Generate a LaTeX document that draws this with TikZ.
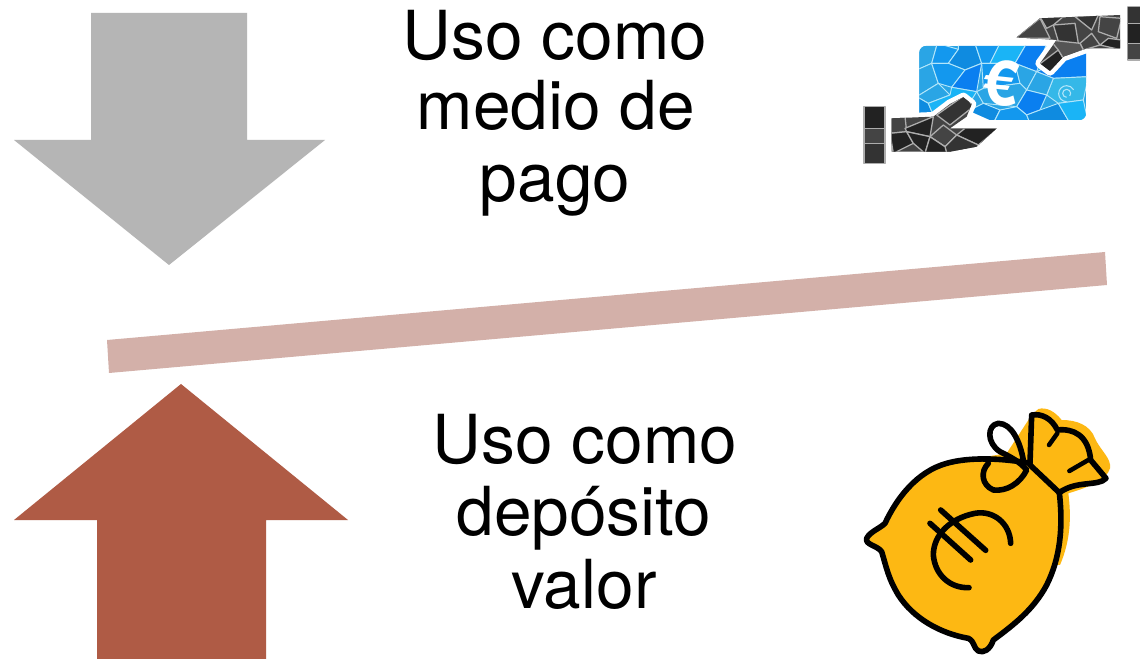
\documentclass[tikz,border=0pt]{standalone}
\usepackage{fontspec}
\setmainfont{TeX Gyre Heros}
\definecolor{arrowgray}{HTML}{B5B5B5}
\definecolor{arrowred}{HTML}{AF5B45}
\definecolor{barpink}{HTML}{D3B0A9}
\definecolor{bagyellow}{HTML}{FDB813}
\definecolor{ba}{HTML}{2AA5E5}
\definecolor{bb}{HTML}{1398EE}
\definecolor{bc}{HTML}{0F8BE0}
\definecolor{bd}{HTML}{1AB4F6}
\definecolor{be}{HTML}{0A7FF0}
\definecolor{bf}{HTML}{35B8E8}
\definecolor{ha}{HTML}{222222}
\definecolor{hb}{HTML}{444444}
\definecolor{hc}{HTML}{333333}
\definecolor{hd}{HTML}{555555}
\tikzset{
  label text/.style={font=\fontsize{50.7pt}{60pt}\selectfont,text=black,anchor=base,inner sep=0pt},
  bluepc/.style={fill=#1,draw=white!70!cyan,line width=.7pt,line join=round},
  darkpc/.style={fill=#1,draw=white!68!black,line width=.95pt,line join=round},
  bagline/.style={draw=black,line width=4.2pt,line cap=round,line join=round},
  bagthin/.style={draw=black,line width=3.4pt,line cap=round,line join=round},
}
\begin{document}
\begin{tikzpicture}[x=.75pt,y=-.75pt]
\useasboundingbox (0,0) rectangle (1140,659);
\fill[white] (0,0) rectangle (1140,659);
% arrows and beam
\fill[arrowgray] (91,13)--(247,13)--(247,140)--(325,140)--(169,265)--(14,140)--(91,140)--cycle;
\fill[arrowred] (181,384)--(348,520)--(266,520)--(266,659)--(97,659)--(97,520)--(14,520)--cycle;
\fill[barpink] (107,340)--(1105,252)--(1107,285)--(109,373)--cycle;
% labels
\node[label text] (t1) at (555,59.5) {Uso como};
\node[label text] (t2) at (556,130) {medio de};
\node[label text] (t3) at (555,201.5) {pago};
\node[label text] (t4) at (585,464) {Uso como};
\node[label text] (t5) at (584,535.5) {depósito};
\node[label text] (t6) at (584,608) {valor};
% banknote and hands icon
\begin{scope}[shift={(850,0)},scale=1/3]
  \begin{scope}
    \clip[rounded corners=5pt] (208,138) rectangle (708,360);
    \fill[ba] (208,138) rectangle (708,360);
    \path[bluepc=ba] (200,130)--(262,130)--(245,190)--(200,210)--cycle;
    \path[bluepc=bb] (262,130)--(325,148)--(295,190)--(245,190)--cycle;
    \path[bluepc=bc] (325,130)--(375,130)--(395,190)--(345,210)--(295,190)--(325,148)--cycle;
    \path[bluepc=bb] (375,130)--(450,130)--(420,190)--(395,190)--cycle;
    \path[bluepc=bd] (450,130)--(530,130)--(495,190)--(420,190)--cycle;
    \path[bluepc=be] (530,130)--(590,130)--(560,215)--(495,190)--cycle;
    \path[bluepc=ba] (200,210)--(245,190)--(265,250)--(200,290)--cycle;
    \path[bluepc=bb] (245,190)--(295,190)--(345,210)--(305,262)--(265,250)--cycle;
    \path[bluepc=be] (345,210)--(395,190)--(380,275)--(305,262)--cycle;
    \path[bluepc=bb] (395,190)--(495,190)--(510,250)--(400,265)--cycle;
    \path[bluepc=ba] (495,190)--(560,215)--(530,270)--(510,250)--cycle;
    \path[bluepc=be] (560,215)--(650,175)--(715,130)--(715,230)--(610,235)--cycle;
    \path[bluepc=bf] (610,235)--(715,230)--(700,300)--(625,310)--(590,285)--cycle;
    \path[bluepc=ba] (530,270)--(560,215)--(610,235)--(590,285)--cycle;
    \path[bluepc=ba] (200,290)--(265,250)--(300,285)--(235,310)--cycle;
    \path[bluepc=bc] (200,290)--(235,310)--(260,370)--(200,370)--cycle;
    \path[bluepc=bd] (235,310)--(300,285)--(305,262)--(380,275)--(340,340)--(260,370)--cycle;
    \path[bluepc=ba] (380,275)--(400,265)--(510,250)--(530,270)--(500,320)--(400,310)--cycle;
    \path[bluepc=be] (530,270)--(590,285)--(570,330)--(530,345)--(500,320)--cycle;
    \path[bluepc=bc] (340,340)--(400,310)--(450,330)--(430,370)--(330,370)--cycle;
    \path[bluepc=bb] (450,330)--(500,320)--(530,345)--(540,370)--(430,370)--cycle;
    \path[bluepc=bc] (570,330)--(625,310)--(660,370)--(540,370)--(530,345)--cycle;
    \path[bluepc=bd] (625,310)--(700,300)--(715,370)--(660,370)--cycle;
    \draw[white!70!cyan,line width=.8pt] (650,292) arc[start angle=90,end angle=400,radius=12]
      (650,305) arc[start angle=90,end angle=330,radius=24];
  \end{scope}
  % white surround of the hands on the note
  \path[draw=white,fill=white,line width=7pt,line join=round]
    (125,355)--(250,350)--(300,312)--(340,292)--(365,312)--(350,345)--(440,385)--(380,440)--(300,455)--(125,455)--cycle;
  \path[draw=white,fill=white,line width=7pt,line join=round]
    (500,112)--(570,55)--(810,45)--(810,145)--(710,145)--(640,170)--(600,213)--(570,190)--(620,120)--cycle;
  % left hand
  \begin{scope}
    \clip (125,355)--(250,350)--(300,312)--(340,292)--(365,312)--(350,350)--(300,385)--(440,385)--(380,440)--(300,455)--(125,455)--cycle;
    \fill[hb] (120,285) rectangle (445,460);
    \path[darkpc=hb] (120,350)--(165,350)--(170,395)--(120,400)--cycle;
    \path[darkpc=ha] (165,385)--(250,350)--(240,410)--(170,395)--cycle;
    \path[darkpc=ha] (120,400)--(170,395)--(190,430)--(130,460)--cycle;
    \path[darkpc=hb] (240,410)--(280,375)--(320,405)--(285,440)--cycle;
    \path[darkpc=hc] (260,345)--(345,285)--(370,320)--(300,375)--cycle;
    \path[darkpc=ha] (170,395)--(240,410)--(225,460)--(190,430)--cycle;
    \path[darkpc=ha] (320,405)--(345,385)--(445,385)--(385,435)--cycle;
    \path[darkpc=hc] (285,440)--(320,405)--(385,435)--(370,460)--(290,460)--cycle;
    \path[darkpc=ha] (225,460)--(240,410)--(285,440)--(290,460)--cycle;
  \end{scope}
  \path[darkpc=ha] (42,320)--(105,320)--(105,385)--(42,385)--cycle;
  \path[darkpc=hb] (42,385)--(105,385)--(105,430)--(42,430)--cycle;
  \path[darkpc=hc] (42,430)--(105,430)--(105,490)--(42,490)--cycle;
  % right hand
  \begin{scope}
    \clip (500,112)--(570,55)--(810,45)--(810,145)--(710,145)--(640,170)--(600,213)--(570,190)--(620,120)--cycle;
    \fill[hb] (495,40) rectangle (815,220);
    \path[darkpc=hb] (495,115)--(570,55)--(600,115)--cycle;
    \path[darkpc=hc] (570,50)--(640,50)--(610,75)--(590,85)--cycle;
    \path[darkpc=hc] (610,75)--(675,70)--(685,130)--(630,140)--cycle;
    \path[darkpc=hc] (675,50)--(745,45)--(725,90)--cycle;
    \path[darkpc=hb] (750,50)--(815,55)--(800,115)--(745,95)--cycle;
    \path[darkpc=hb] (690,130)--(725,100)--(750,135)--(700,150)--cycle;
    \path[darkpc=ha] (750,135)--(775,115)--(815,120)--(815,150)--cycle;
    \path[darkpc=ha] (565,195)--(625,150)--(640,175)--(600,215)--cycle;
    \path[darkpc=hd] (600,120)--(690,130)--(700,150)--(640,175)--(625,150)--cycle;
  \end{scope}
  \begin{scope}
    \clip (832,0) rectangle (870,200);
    \path[darkpc=hc] (832,20)--(880,20)--(880,70)--(832,70)--cycle;
    \path[darkpc=ha] (832,70)--(880,70)--(880,130)--(832,130)--cycle;
    \path[darkpc=hb] (832,130)--(880,130)--(880,180)--(832,180)--cycle;
  \end{scope}
  \node[text=white,inner sep=0pt,rotate=-6,font=\fontsize{47pt}{47pt}\selectfont\bfseries] (euro) at (452,250) {€};
\end{scope}
% money bag icon
\begin{scope}[shift={(850,395)},scale=1/3]
  \fill[bagyellow] (545,60)--(565,42)
    .. controls (590,35) and (615,50) .. (635,75)
    .. controls (680,75) and (720,90) .. (735,130)
    .. controls (750,165) and (785,190) .. (780,220)
    .. controls (770,255) and (720,275) .. (655,295)
    .. controls (665,370) and (660,440) .. (630,510)
    -- (400,500) -- (380,190) -- (470,175) -- cycle;
  \path[bagline,fill=bagyellow] (545,60)
    .. controls (575,55) and (605,70) .. (622,105)
    .. controls (670,100) and (715,120) .. (722,195)
    -- (768,250)
    .. controls (745,275) and (680,255) .. (628,293)
    .. controls (640,400) and (630,490) .. (590,570)
    .. controls (550,645) and (490,690) .. (430,735)
    .. controls (420,765) and (400,775) .. (385,768)
    .. controls (370,760) and (375,740) .. (355,730)
    .. controls (270,715) and (190,670) .. (145,600)
    .. controls (115,550) and (110,520) .. (95,470)
    .. controls (80,450) and (45,450) .. (50,430)
    .. controls (60,410) and (90,400) .. (105,385)
    .. controls (140,310) and (200,230) .. (290,205)
    .. controls (360,185) and (460,190) .. (540,205)
    -- cycle;
  \draw[bagline] (540,210) -- (628,293);
  \draw[bagline] (520,195) .. controls (510,140) and (485,85) .. (445,85)
    .. controls (410,90) and (410,145) .. (450,170)
    .. controls (480,185) and (510,200) .. (530,225)
    .. controls (510,265) and (470,290) .. (430,285)
    .. controls (395,270) and (390,230) .. (415,205);
  \draw[bagthin] (597,150) -- (622,115);
  \draw[bagthin] (658,228) -- (715,195);
  \draw[bagline] (482,445) .. controls (480,385) and (430,345) .. (375,355)
    .. controls (300,370) and (250,420) .. (250,480)
    .. controls (255,540) and (300,580) .. (357,578);
  \draw[bagline] (272,345) -- (407,466);
  \draw[bagline] (240,385) -- (362,495);
\end{scope}
\end{tikzpicture}
\end{document}
